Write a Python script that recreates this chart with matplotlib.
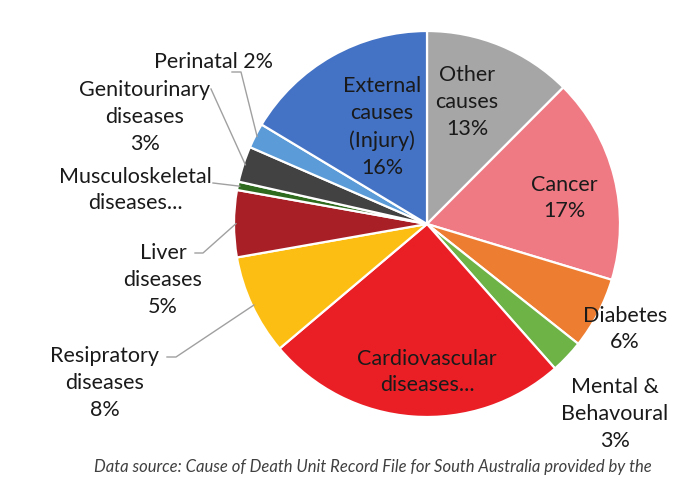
import matplotlib
matplotlib.use("Agg")
import matplotlib.pyplot as plt
import numpy as np

plt.rcParams['font.family'] = ['Lato', 'DejaVu Sans']

categories = ["Other causes", "Cancer", "Diabetes", "Mental & Behavoural",
              "Cardiovascular diseases", "Resipratory diseases", "Liver diseases",
              "Musculoskeletal diseases", "Genitourinary diseases", "Perinatal",
              "External causes (Injury)"]
values = [12.5, 17.2, 6.0, 2.8, 25.4, 8.4, 5.6, 0.7, 3.0, 2.1, 16.4]
labels = ["Other\ncauses\n13%", "Cancer\n17%", "Diabetes\n6%", "Mental &\nBehavoural\n3%",
          "Cardiovascular\ndiseases...", "Resipratory\ndiseases\n8%", "Liver\ndiseases\n5%",
          "Musculoskeletal\ndiseases...", "Genitourinary\ndiseases\n3%", "Perinatal 2%",
          "External\ncauses\n(Injury)\n16%"]
colors = ["#A6A6A6", "#EF7A84", "#ED7D31", "#6DB346", "#EA1F26", "#FDBE14",
          "#A81F26", "#2F6B1E", "#424242", "#5A9BD8", "#4472C4"]

# layout (pixel coordinates, y down): label centre, leader elbow points
layout = {
    "Other causes": ((467, 102), None),
    "Cancer": ((564, 198), None),
    "Diabetes": ((625, 329), None),
    "Mental & Behavoural": ((615, 414), None),
    "Cardiovascular diseases": ((427, 372), None),
    "Resipratory diseases": ((105, 383), [(167, 357), (176, 357)]),
    "Liver diseases": ((163, 280), [(195, 253), (203, 253)]),
    "Musculoskeletal diseases": ((135, 190), [(213, 183)]),
    "Genitourinary diseases": ((145, 117), [(211, 89)]),
    "Perinatal": ((213, 62), [(232, 72), (241, 72)]),
    "External causes (Injury)": ((382, 127), None),
}

W, H = 684, 495
fig = plt.figure(figsize=(W / 100, H / 100), dpi=100)
ax = fig.add_axes([0, 0, 1, 1])

cx, cy, r = 427, H - 224, 193
wedges, _ = ax.pie(values, colors=colors, startangle=90, counterclock=False,
                   center=(cx, cy), radius=r, frame=True,
                   wedgeprops=dict(edgecolor="white", linewidth=1.6))
ax.set_xlim(0, W)
ax.set_ylim(0, H)
ax.set_aspect('equal')
ax.axis('off')

for w, cat, lab in zip(wedges, categories, labels):
    (tx, ty), elbow = layout[cat]
    ax.text(tx, H - ty, lab, ha='center', va='center', fontsize=15.5,
            color="#1a1a1a", linespacing=1.42)
    if elbow is not None:
        mid = np.deg2rad((w.theta1 + w.theta2) / 2)
        ex = cx + r * 0.99 * np.cos(mid)
        ey = cy + r * 0.99 * np.sin(mid)
        pts = [(px, H - py) for px, py in elbow] + [(ex, ey)]
        xs, ys = zip(*pts)
        ax.plot(xs, ys, color="#A0A0A0", lw=1.0)

ax.text(94, H - 467, "Data source: Cause of Death Unit Record File for South Australia provided by the",
        ha='left', va='center', fontsize=12, style='italic', color="#404040")

fig.savefig("out.png", dpi=100, facecolor="white")
